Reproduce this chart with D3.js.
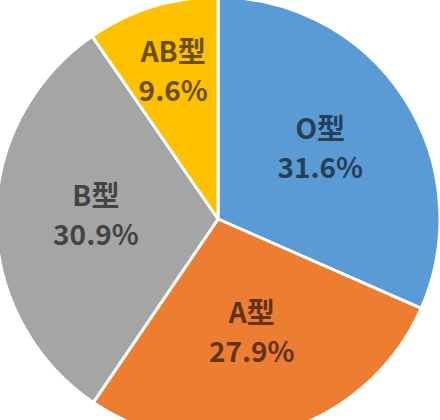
<!DOCTYPE html>
<html>
<head>
<meta charset="utf-8">
<script src="https://cdn.jsdelivr.net/npm/d3@7"></script>
<style>
  body { margin: 0; background: #fff; overflow: hidden; }
  text { font-family: "Noto Sans CJK SC", "Noto Sans", sans-serif; }
</style>
</head>
<body>
<div class="chart"></div>
<script>
// blood type shares, clockwise from 12 o'clock
const types   = ["O型", "A型", "B型", "AB型"];
const shares  = [31.6, 27.9, 30.9, 9.6];
const labels  = ["31.6%", "27.9%", "30.9%", "9.6%"];
const colours = ["#5B9BD5", "#ED7D31", "#A5A5A5", "#FFC000"];

const W = 440, H = 420;
const cx = 218, cy = 219, R = 222;

const data = types.map((t, i) => ({ type: t, value: shares[i], label: labels[i] }));

const color = d3.scaleOrdinal().domain(types).range(colours);

const svg = d3.select(".chart").append("svg")
    .attr("width", W)
    .attr("height", H)
  .append("g")
    .attr("transform", "translate(" + cx + "," + cy + ")");

const pie = d3.pie().sort(null).value(d => d.value);
const arc = d3.arc().innerRadius(0).outerRadius(R);

const arcs = pie(data);

svg.selectAll("path.slice")
    .data(arcs)
    .enter().append("path")
    .attr("class", "slice")
    .attr("d", arc)
    .style("fill", d => color(d.data.type))
    .style("stroke", "#fff")
    .style("stroke-width", 3)
    .style("stroke-linejoin", "round");

// narrow slices get their label pushed further out
function labelPos(d) {
    const rl = (d.endAngle - d.startAngle) < 0.8 ? R * 0.68 : R * 0.55;
    return d3.arc().innerRadius(rl).outerRadius(rl).centroid(d);
}

const lab = svg.selectAll(".lab")
    .data(arcs)
    .enter().append("g")
    .attr("class", "lab")
    .attr("transform", d => "translate(" + labelPos(d) + ")");

lab.append("text")
    .attr("y", -13)
    .attr("text-anchor", "middle")
    .style("font-size", "28px")
    .style("font-weight", "bold")
    .style("fill", d => d3.color(color(d.data.type)).darker(2.5))
    .text(d => d.data.type);

lab.append("text")
    .attr("y", 26)
    .attr("text-anchor", "middle")
    .style("font-size", "28px")
    .style("font-weight", "bold")
    .style("fill", d => d3.color(color(d.data.type)).darker(2.5))
    .text(d => d.data.label);
</script>
</body>
</html>
